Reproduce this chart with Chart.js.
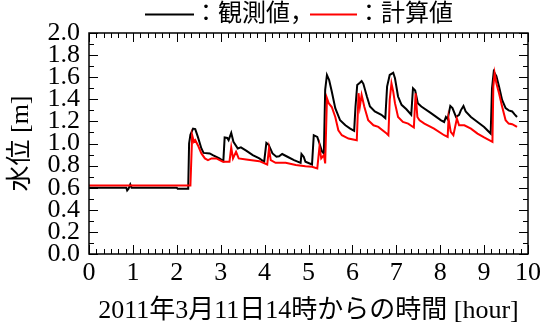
<!DOCTYPE html>
<html>
<head>
<meta charset="utf-8">
<script src="https://cdn.jsdelivr.net/npm/chart.js@4"></script>
<style>
  html, body { margin: 0; padding: 0; background: #fff; }
  #wrap { width: 545px; height: 333px; }
</style>
</head>
<body>
<div id="wrap"><canvas id="level-chart"></canvas></div>
<script>
// observed water level (black)
const obsHours = [
  0, 0.85, 0.87, 0.9, 0.94, 0.97, 2.0, 2.02, 2.26, 2.28,
  2.31, 2.37, 2.42, 2.48, 2.56, 2.61, 2.75, 2.82, 2.97, 3.06,
  3.09, 3.15, 3.18, 3.24, 3.29, 3.39, 3.46, 3.58, 3.73, 3.88,
  3.99, 4.04, 4.09, 4.18, 4.27, 4.33, 4.40, 4.52, 4.67, 4.82,
  4.84, 4.89, 4.93, 5.08, 5.12, 5.20, 5.25, 5.31, 5.35, 5.38,
  5.42, 5.47, 5.53, 5.61, 5.72, 5.84, 5.95, 6.04, 6.07, 6.11,
  6.17, 6.21, 6.25, 6.33, 6.40, 6.51, 6.66, 6.75, 6.79, 6.85,
  6.93, 6.97, 7.04, 7.12, 7.23, 7.34, 7.38, 7.43, 7.49, 7.57,
  7.79, 8.02, 8.09, 8.13, 8.17, 8.23, 8.28, 8.36, 8.43, 8.47,
  8.53, 8.58, 8.70, 8.85, 9.0, 9.15, 9.18, 9.22, 9.28, 9.34,
  9.41, 9.49, 9.56, 9.64, 9.69, 9.75
];
const obsLevel = [
  0.60, 0.60, 0.575, 0.59, 0.63, 0.60, 0.60, 0.59, 0.59, 1.00,
  1.08, 1.135, 1.13, 1.06, 0.955, 0.915, 0.91, 0.895, 0.865, 0.84,
  1.055, 1.05, 1.03, 1.095, 1.015, 0.955, 0.965, 0.935, 0.895, 0.865,
  0.835, 1.005, 0.99, 0.91, 0.88, 0.885, 0.905, 0.88, 0.85, 0.825,
  0.905, 0.88, 0.835, 0.81, 1.075, 1.06, 1.00, 0.925, 0.91, 1.485,
  1.62, 1.575, 1.47, 1.32, 1.21, 1.165, 1.135, 1.115, 1.33, 1.53,
  1.55, 1.565, 1.54, 1.425, 1.335, 1.29, 1.26, 1.23, 1.515, 1.62,
  1.64, 1.59, 1.425, 1.35, 1.31, 1.26, 1.50, 1.48, 1.365, 1.335,
  1.275, 1.21, 1.195, 1.24, 1.22, 1.34, 1.32, 1.24, 1.26, 1.30,
  1.34, 1.29, 1.24, 1.195, 1.15, 1.09, 1.50, 1.65, 1.61, 1.515,
  1.395, 1.32, 1.30, 1.29, 1.265, 1.24
];

// calculated water level (red)
const calcHours = [
  0, 2.31, 2.35, 2.39, 2.42, 2.48, 2.56, 2.64, 2.71, 2.79,
  2.90, 3.05, 3.20, 3.24, 3.28, 3.35, 3.41, 3.58, 3.88, 4.06,
  4.10, 4.14, 4.25, 4.48, 4.71, 4.93, 5.08, 5.20, 5.25, 5.29,
  5.35, 5.38, 5.42, 5.46, 5.53, 5.61, 5.68, 5.76, 5.91, 6.10,
  6.14, 6.17, 6.21, 6.27, 6.36, 6.48, 6.59, 6.78, 6.82, 6.85,
  6.89, 6.93, 6.97, 7.04, 7.15, 7.27, 7.40, 7.44, 7.48, 7.53,
  7.64, 7.86, 8.09, 8.17, 8.19, 8.24, 8.30, 8.38, 8.43, 8.55,
  8.70, 8.85, 9.0, 9.19, 9.21, 9.24, 9.28, 9.34, 9.41, 9.49,
  9.56, 9.64, 9.75
];
const calcLevel = [
  0.62, 0.62, 1.075, 1.015, 1.03, 0.985, 0.91, 0.865, 0.85, 0.865,
  0.865, 0.835, 0.835, 0.965, 0.865, 0.925, 0.865, 0.855, 0.84, 0.81,
  0.955, 0.85, 0.825, 0.825, 0.805, 0.795, 0.79, 0.775, 0.97, 0.865,
  0.895, 0.82, 1.41, 1.365, 1.33, 1.24, 1.12, 1.075, 1.045, 1.03,
  1.455, 1.335, 1.44, 1.335, 1.21, 1.165, 1.15, 1.09, 1.075, 1.395,
  1.545, 1.47, 1.365, 1.24, 1.195, 1.18, 1.145, 1.455, 1.24, 1.21,
  1.18, 1.135, 1.075, 1.06, 1.225, 1.105, 1.075, 1.225, 1.165, 1.165,
  1.135, 1.09, 1.055, 1.015, 1.515, 1.635, 1.545, 1.455, 1.335, 1.21,
  1.18, 1.175, 1.15
];

const legendNames = ['観測値', '計算値'];
const FONT = "'Liberation Serif', 'Noto Sans CJK JP', serif";

const toPoints = (xs, ys) => xs.map((x, i) => ({ x: x, y: ys[i] }));

// frame + inward ticks on all four sides
const frameTicks = {
  id: 'frameTicks',
  afterDraw(chart) {
    const { ctx, chartArea: a, scales: { x, y } } = chart;
    ctx.save();
    ctx.strokeStyle = '#000';
    ctx.lineWidth = 1.5;
    ctx.strokeRect(a.left, a.top, a.right - a.left, a.bottom - a.top);
    ctx.lineWidth = 1;
    ctx.beginPath();
    for (let i = 0; i <= 60; i++) {
      const px = Math.round(x.getPixelForValue(i / 6)) + 0.5;
      const len = i % 6 === 0 ? 9 : 5;
      ctx.moveTo(px, a.bottom); ctx.lineTo(px, a.bottom - len);
      ctx.moveTo(px, a.top); ctx.lineTo(px, a.top + len);
    }
    for (let i = 0; i <= 20; i++) {
      const py = Math.round(y.getPixelForValue(i / 10)) + 0.5;
      const len = i % 2 === 0 ? 9 : 5;
      ctx.moveTo(a.left, py); ctx.lineTo(a.left + len, py);
      ctx.moveTo(a.right, py); ctx.lineTo(a.right - len, py);
    }
    ctx.stroke();
    ctx.restore();
  }
};

// legend line: "——：観測値，——：計算値"
const topLegend = {
  id: 'topLegend',
  afterDraw(chart) {
    const ctx = chart.ctx;
    const items = [
      { x0: 145, x1: 194, tx: 194, text: '：' + legendNames[0] + '，', color: '#000' },
      { x0: 310, x1: 357, tx: 357, text: '：' + legendNames[1], color: '#ff0000' }
    ];
    ctx.save();
    ctx.font = '24px ' + FONT;
    ctx.textBaseline = 'middle';
    ctx.fillStyle = '#000';
    items.forEach(it => {
      ctx.strokeStyle = it.color;
      ctx.lineWidth = 2;
      ctx.beginPath();
      ctx.moveTo(it.x0, 14.5); ctx.lineTo(it.x1, 14.5);
      ctx.stroke();
      ctx.fillText(it.text, it.tx, 15);
    });
    ctx.restore();
  }
};

const config = {
  type: 'line',
  data: {
    datasets: [
      {
        label: legendNames[1],
        data: toPoints(calcHours, calcLevel),
        borderColor: '#ff0000',
        borderWidth: 2,
        pointRadius: 0,
        tension: 0,
        order: 0
      },
      {
        label: legendNames[0],
        data: toPoints(obsHours, obsLevel),
        borderColor: '#000000',
        borderWidth: 2,
        pointRadius: 0,
        tension: 0,
        order: 1
      }
    ]
  },
  options: {
    responsive: true,
    maintainAspectRatio: false,
    animation: false,
    layout: { padding: { top: 33, right: 14, left: 0, bottom: 0 } },
    plugins: {
      legend: { display: false },
      tooltip: { enabled: false }
    },
    scales: {
      x: {
        type: 'linear',
        min: 0,
        max: 10,
        grid: { display: false, drawTicks: false },
        border: { display: false },
        ticks: {
          stepSize: 1,
          padding: 4,
          color: '#000',
          maxRotation: 0,
          autoSkip: false,
          font: { family: FONT, size: 26 }
        },
        title: {
          display: true,
          text: '2011年3月11日14時からの時間 [hour]',
          color: '#000',
          font: { family: FONT, size: 26 },
          padding: { top: 0, bottom: 6 }
        },
        afterFit(scale) { scale.height = 79; }
      },
      y: {
        min: 0,
        max: 2,
        grid: { display: false, drawTicks: false },
        border: { display: false },
        ticks: {
          stepSize: 0.2,
          padding: 9,
          color: '#000',
          autoSkip: false,
          font: { family: FONT, size: 26, lineHeight: 0.9 },
          callback: v => v.toFixed(1)
        },
        title: {
          display: true,
          text: '水位 [m]',
          color: '#000',
          font: { family: FONT, size: 26 },
          padding: { top: 6, bottom: 0 }
        },
        afterFit(scale) { scale.width = 89; }
      }
    }
  },
  plugins: [frameTicks, topLegend]
};

new Chart(document.querySelector('#level-chart'), config);
</script>
</body>
</html>
